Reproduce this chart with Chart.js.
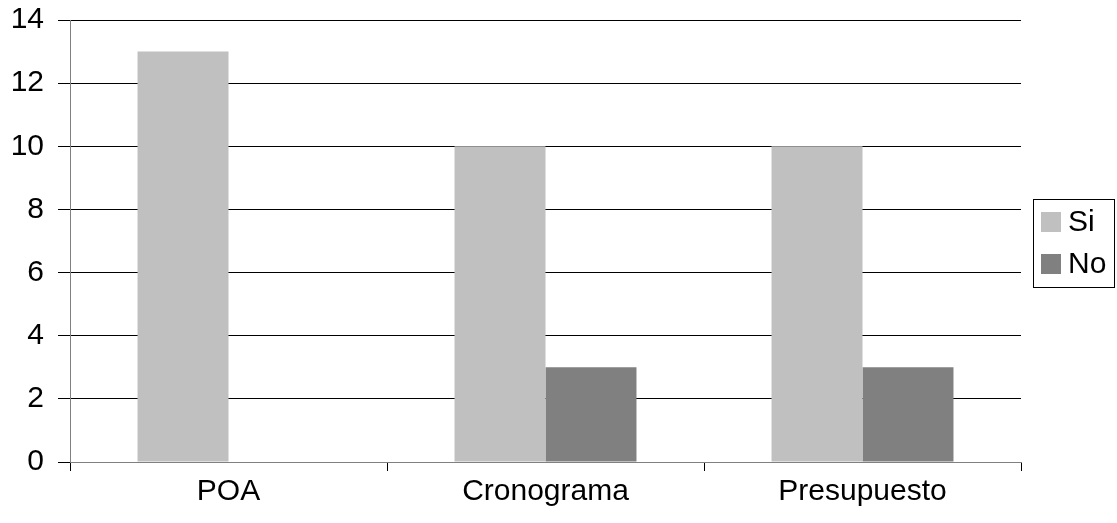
<!DOCTYPE html>
<html>
<head>
<meta charset="utf-8">
<script src="https://cdn.jsdelivr.net/npm/chart.js@4.4.0/dist/chart.umd.min.js"></script>
<style>
  html,body{margin:0;padding:0;background:#fff;}
  #wrap{width:1117px;height:523px;position:relative;}
</style>
</head>
<body>
<div id="wrap"><canvas id="c" width="1117" height="523"></canvas></div>
<script>
// chart data
const categories = ['POA', 'Cronograma', 'Presupuesto'];
const siValues = [13, 10, 10];
const noValues = [0, 3, 3];
const seriesNames = ['Si', 'No'];
const seriesColors = ['#c0c0c0', '#808080'];
const yTicks = [0, 2, 4, 6, 8, 10, 12, 14];

const FONT = '"Liberation Sans", Arial, sans-serif';
const FSIZE = 30;

// boxed legend on the right, like the original
const boxLegend = {
  id: 'boxLegend',
  afterDraw(chart){
    const ctx = chart.ctx;
    const x = 1033, y = 199, w = 81, h = 88;
    ctx.save();
    ctx.strokeStyle = '#000'; ctx.lineWidth = 1;
    ctx.strokeRect(x + 0.5, y + 0.5, w, h);
    ctx.font = FSIZE + 'px ' + FONT;
    ctx.textBaseline = 'middle';
    chart.data.datasets.forEach((ds, i) => {
      const cy = y + 23 + i * 42;
      ctx.fillStyle = ds.backgroundColor;
      ctx.fillRect(x + 8, cy - 10, 20, 20);
      ctx.fillStyle = '#000';
      ctx.fillText(ds.label, x + 35, cy + 1);
    });
    ctx.restore();
  }
};

new Chart(document.getElementById('c'), {
  type: 'bar',
  data: {
    labels: categories,
    datasets: [
      {label: seriesNames[0], data: siValues, backgroundColor: seriesColors[0]},
      {label: seriesNames[1], data: noValues, backgroundColor: seriesColors[1]}
    ]
  },
  options: {
    responsive: false,
    animation: false,
    datasets: {bar: {categoryPercentage: 0.574, barPercentage: 1}},
    layout: {padding: {left: 0, right: 96, top: 20, bottom: 0}},
    plugins: {legend: {display: false}, tooltip: {enabled: false}},
    scales: {
      x: {
        offset: true,
        grid: {offset: true, drawOnChartArea: false, drawTicks: true, tickLength: 9, color: '#000'},
        border: {color: '#808080'},
        ticks: {color: '#000', font: {family: FONT, size: FSIZE}, padding: 3},
        afterFit(s){ s.height = 61; }
      },
      y: {
        min: 0, max: 14,
        afterBuildTicks(s){ s.ticks = yTicks.map(v => ({value: v})); },
        grid: {color: '#000', tickLength: 12},
        border: {color: '#808080'},
        ticks: {color: '#000', font: {family: FONT, size: FSIZE}, padding: 14},
        afterFit(s){ s.width = 70; s.paddingTop = 0; s.paddingBottom = 0; }
      }
    }
  },
  plugins: [boxLegend]
});
</script>
</body>
</html>
